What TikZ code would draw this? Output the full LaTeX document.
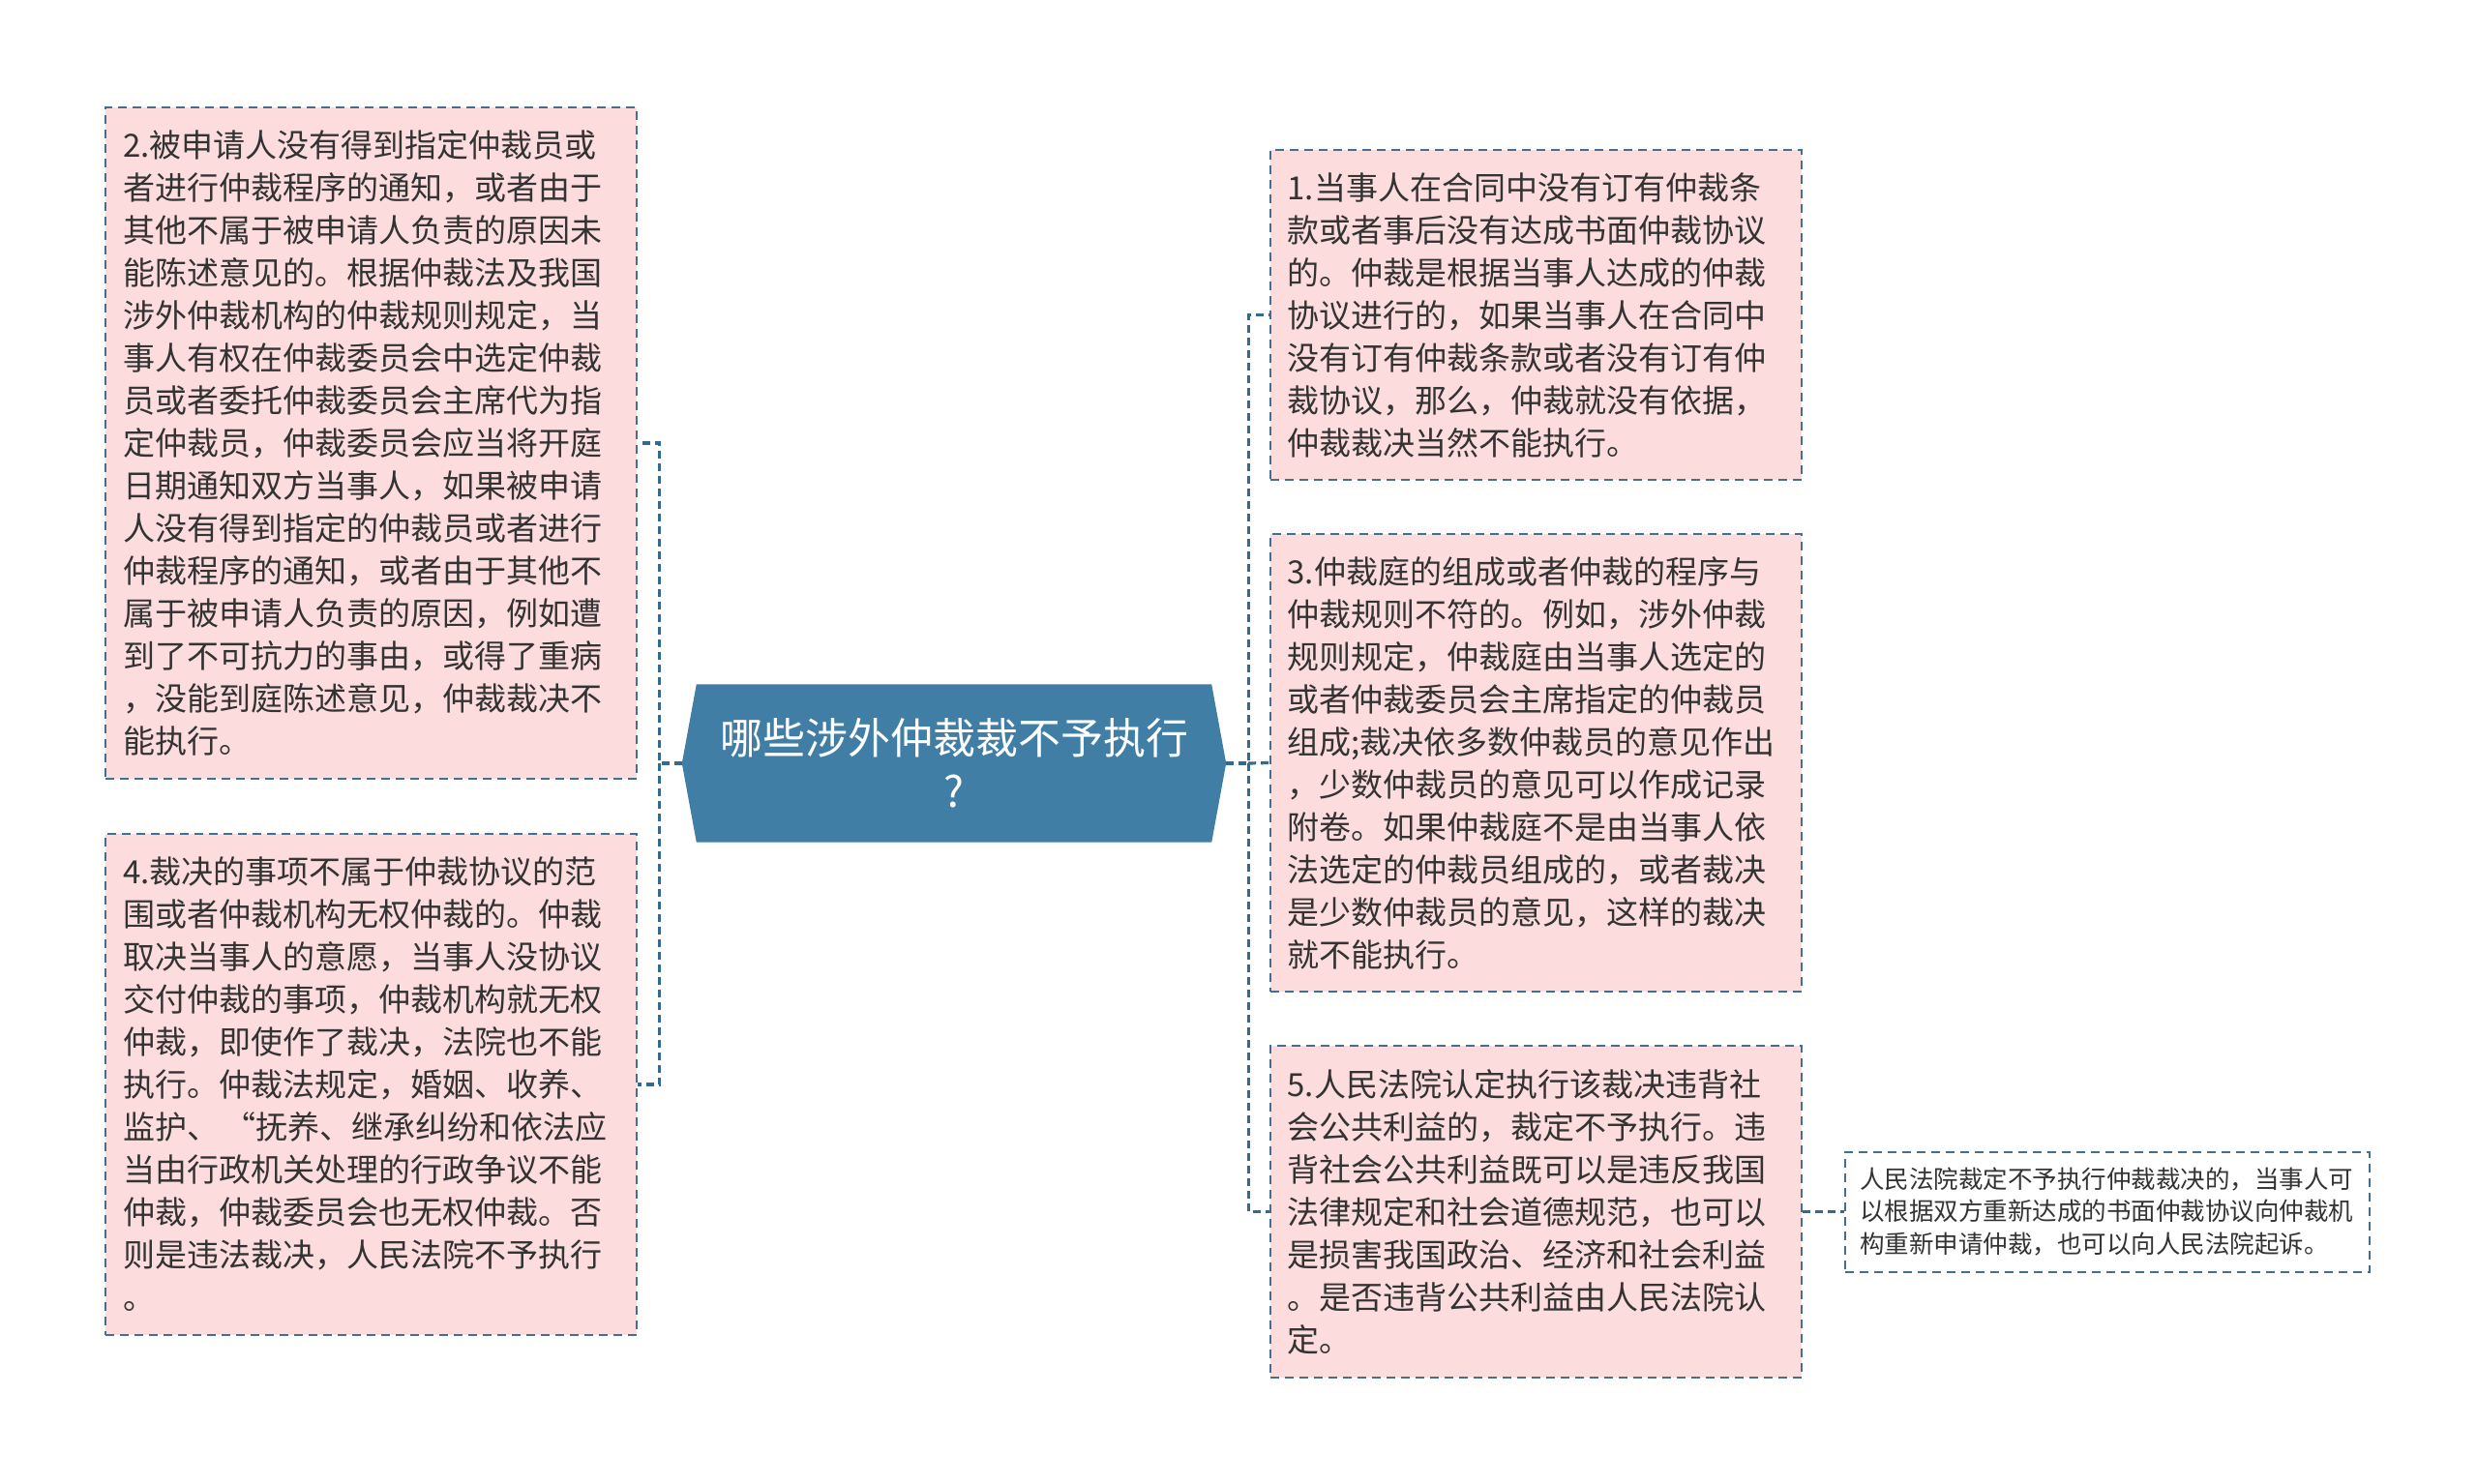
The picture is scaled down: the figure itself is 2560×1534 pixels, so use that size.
\documentclass[tikz,border=0pt]{standalone}
\usepackage{fontspec}
\setmainfont{Noto Sans CJK SC}
\usetikzlibrary{backgrounds}
\definecolor{linec}{RGB}{66,112,148}
\definecolor{connc}{RGB}{52,106,144}
\definecolor{pinkf}{RGB}{252,220,220}
\definecolor{hubf}{RGB}{64,126,166}
\definecolor{txt}{RGB}{51,51,51}
\begin{document}
\begin{tikzpicture}[x=1pt,y=-1pt,
  leaf/.style={draw=linec, fill=pinkf, dash pattern=on 9pt off 6pt, line width=2pt,
    text=txt, inner xsep=18pt, inner ysep=0pt, text width=513pt, align=left,
    minimum width=549pt, font=\fontsize{33}{44}\selectfont, anchor=center},
  note/.style={draw=linec, fill=white, dash pattern=on 9pt off 6pt, line width=2pt,
    text=txt, inner xsep=15pt, inner ysep=0pt, text width=512pt, align=left,
    minimum width=542pt, minimum height=124pt, font=\fontsize{25.5}{33.5}\selectfont, anchor=center},
  hubtext/.style={text=white, inner sep=0pt, minimum width=562pt, minimum height=163pt,
    align=center, font=\fontsize{44}{55}\selectfont},
  conn/.style={draw=connc, line width=3.2pt, dash pattern=on 8pt off 5pt}
]
\useasboundingbox (0,0) rectangle (2560,1534);

\node[hubtext] (hub) at (986,789) {哪些涉外仲裁裁不予执行\\?};

\begin{scope}[on background layer]
  \fill[white] (0,0) rectangle (2560,1534);
  \fill[hubf] (hub.west) -- ([xshift=15pt]hub.north west) -- ([xshift=-15pt]hub.north east)
    -- (hub.east) -- ([xshift=-15pt]hub.south east) -- ([xshift=15pt]hub.south west) -- cycle;
\end{scope}

\node[leaf, minimum height=694pt] (b2) at (383.5,458) {2.被申请人没有得到指定仲裁员或\\者进行仲裁程序的通知，或者由于\\其他不属于被申请人负责的原因未\\能陈述意见的。根据仲裁法及我国\\涉外仲裁机构的仲裁规则规定，当\\事人有权在仲裁委员会中选定仲裁\\员或者委托仲裁委员会主席代为指\\定仲裁员，仲裁委员会应当将开庭\\日期通知双方当事人，如果被申请\\人没有得到指定的仲裁员或者进行\\仲裁程序的通知，或者由于其他不\\属于被申请人负责的原因，例如遭\\到了不可抗力的事由，或得了重病\\，没能到庭陈述意见，仲裁裁决不\\能执行。};

\node[leaf, minimum height=518pt] (b4) at (383.5,1121) {4.裁决的事项不属于仲裁协议的范\\围或者仲裁机构无权仲裁的。仲裁\\取决当事人的意愿，当事人没协议\\交付仲裁的事项，仲裁机构就无权\\仲裁，即使作了裁决，法院也不能\\执行。仲裁法规定，婚姻、收养、\\监护、\,“抚养、继承纠纷和依法应\\当由行政机关处理的行政争议不能\\仲裁，仲裁委员会也无权仲裁。否\\则是违法裁决，人民法院不予执行\\。};

\node[leaf, minimum height=341pt] (b1) at (1587,325.5) {1.当事人在合同中没有订有仲裁条\\款或者事后没有达成书面仲裁协议\\的。仲裁是根据当事人达成的仲裁\\协议进行的，如果当事人在合同中\\没有订有仲裁条款或者没有订有仲\\裁协议，那么，仲裁就没有依据，\\仲裁裁决当然不能执行。};

\node[leaf, minimum height=473pt] (b3) at (1587,788.5) {3.仲裁庭的组成或者仲裁的程序与\\仲裁规则不符的。例如，涉外仲裁\\规则规定，仲裁庭由当事人选定的\\或者仲裁委员会主席指定的仲裁员\\组成;裁决依多数仲裁员的意见作出\\，少数仲裁员的意见可以作成记录\\附卷。如果仲裁庭不是由当事人依\\法选定的仲裁员组成的，或者裁决\\是少数仲裁员的意见，这样的裁决\\就不能执行。};

\node[leaf, minimum height=343pt] (b5) at (1587,1252.5) {5.人民法院认定执行该裁决违背社\\会公共利益的，裁定不予执行。违\\背社会公共利益既可以是违反我国\\法律规定和社会道德规范，也可以\\是损害我国政治、经济和社会利益\\。是否违背公共利益由人民法院认\\定。};

\node[note] (n5) at (2178,1252.5) {人民法院裁定不予执行仲裁裁决的，当事人可\\以根据双方重新达成的书面仲裁协议向仲裁机\\构重新申请仲裁，也可以向人民法院起诉。};

\draw[conn] (hub.west) -- ++(-23,0) coordinate (lj) |- (b2.east);
\draw[conn] (lj) |- (b4.east);
\draw[conn] (hub.east) -- ++(23,0) coordinate (rj) |- (b1.west);
\draw[conn] (rj) -- (b3.west);
\draw[conn] (rj) |- (b5.west);
\draw[conn] (b5.east) -- (n5.west);
\end{tikzpicture}
\end{document}
